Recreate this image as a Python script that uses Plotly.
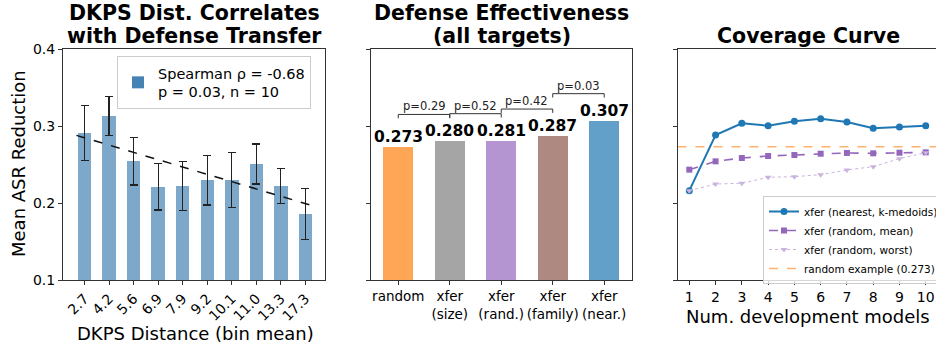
import numpy as np
import plotly.graph_objects as go

# ---- data ----
dist_labels = ["2.7", "4.2", "5.6", "6.9", "7.9", "9.2", "10.1", "11.0", "13.3", "17.3"]
dist_means = [0.291, 0.313, 0.2545, 0.221, 0.222, 0.2295, 0.230, 0.2506, 0.222, 0.186]
dist_err = [0.036, 0.025, 0.031, 0.030, 0.032, 0.032, 0.036, 0.026, 0.023, 0.033]
spearman_text = "Spearman ρ = -0.68<br>p = 0.03, n = 10"

methods = ["random", "xfer<br>(size)", "xfer<br>(rand.)", "xfer<br>(family)", "xfer<br>(near.)"]
method_vals = [0.273, 0.280, 0.281, 0.287, 0.307]
method_colors = ["#FFA556", "#A5A5A5", "#B495D1", "#AE8981", "#62A0CA"]
pair_pvals = ["p=0.29", "p=0.52", "p=0.42", "p=0.03"]

n_models = list(range(1, 11))
cov_nearest = [0.216, 0.2883, 0.3035, 0.3004, 0.3061, 0.3095, 0.3052, 0.297, 0.2987, 0.3004]
cov_rand_mean = [0.2433, 0.2541, 0.2584, 0.261, 0.2623, 0.264, 0.265, 0.2645, 0.2653, 0.2658]
cov_rand_worst = [0.216, 0.2247, 0.2256, 0.2334, 0.2342, 0.2368, 0.2429, 0.2472, 0.2576, 0.2653]
random_example = 0.273

W, H = 936, 350
FONT = "DejaVu Sans"
AX = "#333333"


def px(x):
    return x / W


def py(y):
    return 1 - y / H


fig = go.Figure()

# ---- panel 1: bars by distance bin ----
idx = list(range(len(dist_labels)))
fig.add_trace(go.Bar(
    x=idx, y=dist_means, width=0.55, marker=dict(color="#7EA8CA", line=dict(width=0)),
    error_y=dict(type="data", array=dist_err, color="#222222", thickness=1.3, width=4),
    showlegend=False, xaxis="x", yaxis="y"))

slope, intercept = np.polyfit(idx, dist_means, 1)
trend_x = [-0.33, 9.27]
fig.add_trace(go.Scatter(
    x=trend_x, y=[slope * t + intercept for t in trend_x], mode="lines",
    line=dict(color="#111111", width=1.5, dash="dash"), showlegend=False,
    xaxis="x", yaxis="y"))

fig.add_trace(go.Scatter(
    x=[None], y=[None], mode="markers", name=spearman_text,
    marker=dict(symbol="square", size=10, color="#4682B4"),
    legend="legend", xaxis="x", yaxis="y"))

# ---- panel 2: defense effectiveness ----
midx = list(range(len(methods)))
fig.add_trace(go.Bar(
    x=midx, y=method_vals, width=0.58,
    marker=dict(color=method_colors, line=dict(width=0)),
    showlegend=False, xaxis="x2", yaxis="y2"))

annotations = []
for i, v in enumerate(method_vals):
    annotations.append(dict(
        x=i, y=v, xref="x2", yref="y2", text=f"<b>{v:.3f}</b>", showarrow=False,
        yanchor="bottom", yshift=-1, font=dict(size=15.5, color="black", family=FONT)))

for i, ptxt in enumerate(pair_pvals):
    h = max(method_vals[i], method_vals[i + 1]) + 0.035
    fig.add_trace(go.Scatter(
        x=[i, i, i + 1, i + 1], y=[h - 0.005, h, h, h - 0.005], mode="lines",
        line=dict(color="#333333", width=1), showlegend=False, xaxis="x2", yaxis="y2"))
    annotations.append(dict(
        x=i + 0.5, y=h, xref="x2", yref="y2", text=ptxt, showarrow=False,
        yanchor="bottom", yshift=-1, font=dict(size=11.5, color="#222222", family=FONT)))

# ---- panel 3: coverage curve ----
fig.add_trace(go.Scatter(
    x=n_models, y=cov_nearest, mode="lines+markers", name="xfer (nearest, k-medoids)",
    line=dict(color="#1F77B4", width=2), marker=dict(symbol="circle", size=7),
    legend="legend2", xaxis="x3", yaxis="y3"))
fig.add_trace(go.Scatter(
    x=n_models, y=cov_rand_mean, mode="lines+markers", name="xfer (random, mean)",
    line=dict(color="#9467BD", width=1.6, dash="dash"), marker=dict(symbol="square", size=6),
    legend="legend2", xaxis="x3", yaxis="y3"))
fig.add_trace(go.Scatter(
    x=n_models, y=cov_rand_worst, mode="lines+markers", name="xfer (random, worst)",
    line=dict(color="#CAB3DE", width=1, dash="dot"), marker=dict(symbol="triangle-down", size=6),
    legend="legend2", xaxis="x3", yaxis="y3"))
fig.add_trace(go.Scatter(
    x=[0.55, 10.45], y=[random_example, random_example], mode="lines",
    name=f"random example ({random_example:.3f})",
    line=dict(color="#FFB26E", width=1.5, dash="dash"),
    legend="legend2", xaxis="x3", yaxis="y3"))

# ---- titles (one annotation per line for tight line spacing) ----
title_lines = [
    ((64 + 325) / 2, 13, "DKPS Dist. Correlates"),
    ((64 + 325) / 2, 36, "with Defense Transfer"),
    ((371 + 632) / 2, 13, "Defense Effectiveness"),
    ((371 + 632) / 2, 36, "(all targets)"),
    ((678 + 936) / 2 + 1, 36, "Coverage Curve"),
]
for xc, yc, t in title_lines:
    annotations.append(dict(
        x=px(xc), y=py(yc), xref="paper", yref="paper", text=f"<b>{t}</b>", showarrow=False,
        xanchor="center", yanchor="middle", font=dict(size=20.5, color="black", family=FONT)))

annotations += [
    dict(x=px(18), y=py(164), xref="paper", yref="paper", text="Mean ASR Reduction",
         textangle=-90, showarrow=False, xanchor="center", yanchor="middle",
         font=dict(size=18, color="black", family=FONT)),
    dict(x=px(195), y=py(333), xref="paper", yref="paper", text="DKPS Distance (bin mean)",
         showarrow=False, xanchor="center", yanchor="middle",
         font=dict(size=18, color="black", family=FONT)),
    dict(x=px(808), y=py(316), xref="paper", yref="paper", text="Num. development models",
         showarrow=False, xanchor="center", yanchor="middle",
         font=dict(size=18, color="black", family=FONT)),
]

axis_common = dict(showline=True, linecolor=AX, linewidth=1, ticks="outside", ticklen=4,
                   tickcolor=AX, showgrid=False, zeroline=False, automargin=False,
                   tickfont=dict(size=14, color="black", family=FONT))

ydom = [py(280), py(49)]
fig.update_layout(
    width=W, height=H, margin=dict(l=0, r=0, t=0, b=0, autoexpand=False),
    paper_bgcolor="white", plot_bgcolor="white",
    font=dict(family=FONT, color="black"),
    bargap=0,
    xaxis=dict(domain=[px(63), px(325)], range=[-0.88, 9.8], tickmode="array",
               tickvals=idx, ticktext=dist_labels, tickangle=-45, mirror=True, anchor="y",
               **axis_common),
    yaxis=dict(domain=ydom, range=[0.1, 0.4], tickmode="array", tickvals=[0.1, 0.2, 0.3, 0.4],
               ticktext=["0.1", "0.2", "0.3", "0.4"], mirror=True, anchor="x", **axis_common),
    xaxis2=dict(domain=[px(371), px(632)], range=[-0.53, 4.54], tickmode="array",
                tickvals=midx, ticktext=methods, mirror=True, anchor="y2",
                **{**axis_common, "tickfont": dict(size=13.5, color="black", family=FONT)}),
    yaxis2=dict(domain=ydom, range=[0.1, 0.4], tickmode="array", tickvals=[0.1, 0.2, 0.3, 0.4],
                showticklabels=False, mirror=True, anchor="x2", **axis_common),
    xaxis3=dict(domain=[px(678), 1], range=[0.57, 10.39], tickmode="array",
                tickvals=n_models, ticktext=[str(n) for n in n_models], mirror=True, anchor="y3",
                **axis_common),
    yaxis3=dict(domain=ydom, range=[0.1, 0.4], tickmode="array", tickvals=[0.1, 0.2, 0.3, 0.4],
                showticklabels=False, mirror=False, anchor="x3", **axis_common),
    legend=dict(x=px(117), y=py(56), xanchor="left", yanchor="top",
                bgcolor="rgba(255,255,255,0.8)", bordercolor="#CCCCCC", borderwidth=1,
                font=dict(size=14.5, color="black", family=FONT), itemsizing="constant"),
    legend2=dict(x=px(763), y=py(196), xanchor="left", yanchor="top",
                 bgcolor="rgba(255,255,255,0.8)", bordercolor="#CCCCCC", borderwidth=1,
                 font=dict(size=10.5, color="black", family=FONT), tracegroupgap=0,
                 itemwidth=30),
    annotations=annotations,
)

fig.write_html("out.html")
